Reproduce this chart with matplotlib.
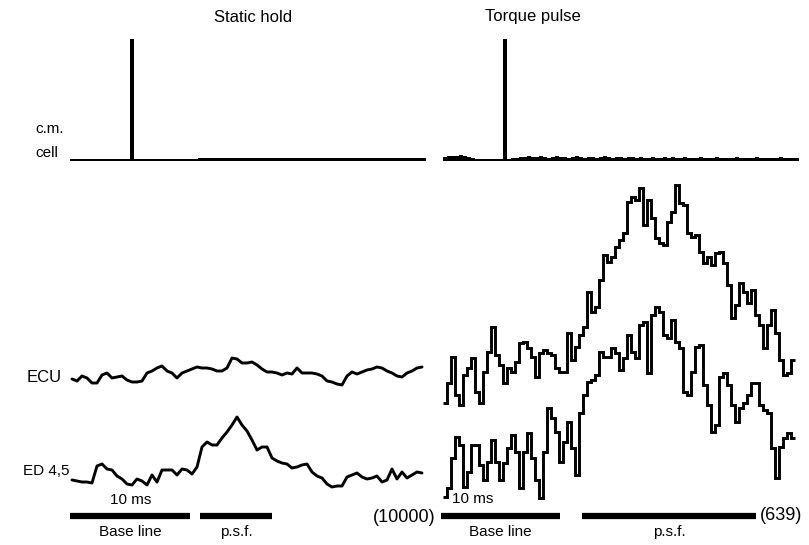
import numpy as np
import matplotlib
matplotlib.use("Agg")
import matplotlib.pyplot as plt

plt.rcParams['font.family'] = ['Liberation Sans', 'DejaVu Sans']

# ---------------- data ----------------
panel_titles = ["Static hold", "Torque pulse"]
trace_labels = ["ECU", "ED 4,5"]
cm_label = ["c.m.", "cell"]
counts = ["(10000)", "(639)"]

# time grids (ms, relative to c.m. cell spike)
static_t0, static_dt = -5.0, 5 / 12
pulse_t0, pulse_dt = -5.25, 4 / 12
cm_static_t0, cm_pulse_t0, cm_dt = -5.17, -5.25, 4 / 12

# c.m. cell histograms (arbitrary units)
cm_static = [0, 0, 0, 0, 0, 0, 0, 0, 0, 0, 0, 0, 0, 0, 0, 120, 0, 0, 0, 0,
             0, 0, 0, 0, 0, 0, 0, 0, 0, 0, 0, 0, 1, 1, 1, 1, 1, 1, 1, 1,
             1, 1, 1, 1, 1, 1, 1, 1, 1, 1, 1, 1, 1, 1, 1, 1, 1, 1, 1, 1,
             1, 1, 1, 1, 1, 1, 1, 1, 1, 1, 1, 1, 1, 1, 1, 1, 1, 1, 1, 1,
             1, 1, 1, 1, 1, 1, 1, 1, 1]
cm_pulse = [2, 3, 3, 3, 4, 3, 2, 1, 0, 0, 0, 0, 0, 0, 0, 120, 0, 1, 1, 2,
            2, 3, 2, 2, 3, 2, 1, 2, 3, 2, 2, 1, 2, 3, 2, 1, 2, 2, 1, 2,
            3, 2, 1, 2, 2, 1, 2, 2, 1, 2, 1, 1, 2, 1, 1, 2, 1, 2, 1, 1,
            2, 1, 1, 1, 2, 1, 1, 1, 2, 1, 1, 1, 1, 2, 1, 1, 1, 1, 2, 1,
            1, 1, 1, 1, 2, 1, 1, 1, 1]

# EMG averages (arbitrary units)
ecu_static = [11, 9, 14, 12, 7, 7, 15, 17, 12, 13, 14, 10, 8, 8, 9, 17, 19, 22, 24, 19,
              17, 12, 17, 19, 21, 23, 22, 22, 21, 19, 19, 22, 32, 31, 27, 27, 28, 25, 21, 18,
              18, 17, 15, 17, 16, 22, 17, 17, 17, 16, 14, 9, 8, 6, 5, 14, 18, 16, 18, 20,
              21, 23, 22, 19, 17, 14, 13, 17, 19, 22, 23]
ed_static = [15, 14, 13, 13, 12, 29, 31, 26, 25, 19, 16, 11, 10, 16, 14, 10, 20, 13, 25, 25,
             25, 20, 26, 25, 21, 28, 48, 53, 50, 50, 57, 63, 70, 78, 70, 64, 55, 45, 48, 48,
             37, 34, 32, 31, 27, 28, 30, 31, 23, 19, 17, 11, 8, 9, 9, 18, 20, 22, 18, 16,
             17, 19, 13, 15, 26, 16, 23, 17, 20, 23, 22]
ecu_pulse = [7, 27, 53, 15, 5, 35, 42, 52, 18, 7, 38, 58, 83, 55, 45, 27, 42, 38, 48, 67,
             68, 62, 53, 33, 57, 60, 57, 55, 42, 38, 38, 77, 50, 63, 75, 83, 118, 98, 103, 130,
             155, 148, 153, 163, 170, 177, 208, 213, 210, 222, 185, 210, 192, 172, 167, 165, 188, 198, 225, 207,
             205, 177, 173, 175, 158, 147, 153, 145, 157, 158, 147, 125, 92, 105, 127, 118, 107, 120, 95, 85,
             62, 85, 100, 77, 50, 35, 37, 50]
ed_pulse = [8, 17, 47, 68, 60, 18, 33, 60, 60, 40, 25, 43, 65, 43, 25, 42, 57, 70, 53, 17,
            53, 72, 47, 25, 7, 53, 97, 87, 73, 43, 63, 83, 57, 30, 92, 110, 123, 125, 130, 153,
            148, 148, 157, 152, 135, 147, 170, 153, 147, 180, 183, 132, 190, 198, 193, 170, 167, 185, 163, 157,
            113, 110, 133, 158, 160, 120, 100, 73, 80, 128, 132, 120, 100, 83, 97, 102, 110, 122, 122, 100,
            95, 92, 57, 27, 58, 67, 72, 67]

# analysis windows (ms)
static_windows = [("Base line", -5.17, 4.83), ("p.s.f.", 5.67, 11.67)]
pulse_windows = [("Base line", -5.42, 4.5), ("p.s.f.", 6.33, 20.83)]

# ---------------- layout ----------------
W, H = 809, 545
fig = plt.figure(figsize=(W / 100, H / 100), dpi=100)
fig.patch.set_facecolor("white")

def fx(x):
    return x / W

def fy(y):
    return 1 - y / H

# two full-figure axes, one per column; 12 px per ms, y in px from bottom
axes = []
for spike_px in (132, 506):
    ax = fig.add_axes([0, 0, 1, 1])
    ax.set_xlim(-spike_px / 12, (W - spike_px) / 12)
    ax.set_ylim(0, H)
    ax.axis("off")
    ax.patch.set_alpha(0)
    axes.append(ax)

axL, axR = axes
cm_off, ecuL_off, edL_off, ecuR_off, edR_off = 385, 155, 50, 135, 40
bar_y = 29

def step_trace(ax, t0, dt, vals, off, lw):
    v = np.asarray(vals, float)
    t = t0 + dt * np.arange(len(v) + 1)
    y = np.append(v, v[-1]) + off
    ax.step(t, y, where="post", color="black", lw=lw, solid_joinstyle="miter",
            solid_capstyle="butt")

def smooth_trace(ax, t0, dt, vals, off, lw):
    v = np.asarray(vals, float)
    t = t0 + dt * np.arange(len(v))
    ax.plot(t, v + off, color="black", lw=lw, solid_joinstyle="round",
            solid_capstyle="round")

def cm_hist(ax, t0, dt, vals, off, half):
    v = np.asarray(vals, float)
    t = t0 + dt * np.arange(len(v) + 1)
    y = np.append(v, v[-1])
    ax.fill_between(t, off - half, off + half + y, step="post", color="black", lw=0)

cm_hist(axL, cm_static_t0, cm_dt, cm_static, cm_off, 1.2)
cm_hist(axR, cm_pulse_t0, cm_dt, cm_pulse, cm_off, 1.3)
smooth_trace(axL, static_t0, static_dt, ecu_static, ecuL_off, 2.1)
smooth_trace(axL, static_t0, static_dt, ed_static, edL_off, 2.1)
step_trace(axR, pulse_t0, pulse_dt, ecu_pulse, ecuR_off, 2.1)
step_trace(axR, pulse_t0, pulse_dt, ed_pulse, edR_off, 2.1)

for ax, wins in ((axL, static_windows), (axR, pulse_windows)):
    for name, a, b in wins:
        ax.plot([a, b], [bar_y, bar_y], color="black", lw=4.5, solid_capstyle="butt")

fs = 11
fig.text(fx(253), fy(17), panel_titles[0], ha="center", va="center", fontsize=12)
fig.text(fx(533), fy(17), panel_titles[1], ha="center", va="center", fontsize=12)
fig.text(fx(35), fy(129), cm_label[0], ha="left", va="center", fontsize=fs)
fig.text(fx(35), fy(153), cm_label[1], ha="left", va="center", fontsize=fs)
fig.text(fx(27), fy(378), trace_labels[0], ha="left", va="center", fontsize=12)
fig.text(fx(23), fy(471), trace_labels[1], ha="left", va="center", fontsize=fs)

fig.text(fx(131), fy(500), "10 ms", ha="center", va="center", fontsize=fs)
fig.text(fx(473), fy(499), "10 ms", ha="center", va="center", fontsize=fs)
for ax, wins in ((axL, static_windows), (axR, pulse_windows)):
    for name, a, b in wins:
        ax.text((a + b) / 2, bar_y - 16, name, ha="center", va="center", fontsize=fs)
fig.text(fx(435), fy(518), counts[0], ha="right", va="center", fontsize=13)
fig.text(fx(760), fy(515), counts[1], ha="left", va="center", fontsize=13)

fig.savefig("out.png", dpi=100, facecolor="white")
